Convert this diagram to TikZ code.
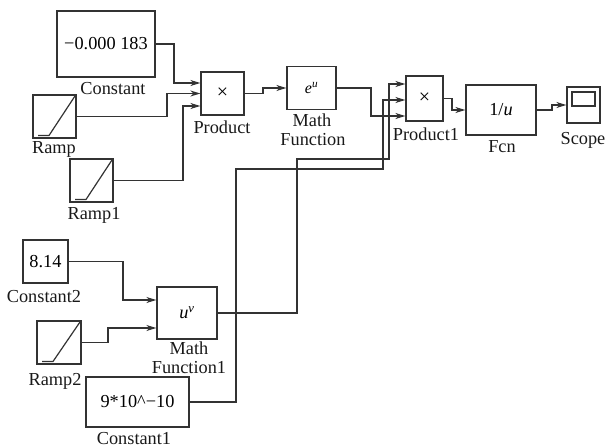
\documentclass[tikz,border=0pt]{standalone}
\usepackage{fontspec}
\setmainfont{Liberation Serif}
\usetikzlibrary{arrows.meta,calc}
\definecolor{lc}{gray}{0.2}
\newcommand{\lblfont}{\fontsize{18.3}{19}\selectfont}
\begin{document}
\begin{tikzpicture}[x=1pt,y=-1pt,
  blk/.style={draw=lc, line width=1.3pt, fill=white, inner sep=0pt, font=\lblfont},
  lbl/.style={anchor=base, inner sep=0pt, font=\lblfont, text=black!90},
  arr/.style={draw=lc, line width=1.2pt, -{Stealth[length=10pt,width=6pt]}},
  rampicon/.style={path picture={\draw[lc, line width=1.2pt]
      ($(path picture bounding box.south west)+(5pt,2.5pt)$) -- ++(11pt,0pt)
      -- ($(path picture bounding box.north east)+(-1pt,-1pt)$);}},
  scopeicon/.style={path picture={\draw[lc, line width=1.2pt]
      ($(path picture bounding box.north west)+(5pt,-5pt)$) rectangle
      ($(path picture bounding box.north east)+(-5pt,-19pt)$);}}
]
\useasboundingbox (0,0) rectangle (606,447);

% blocks
\node[blk, minimum width=98pt, minimum height=66pt] (const) at (106,44) {−0.000 183};
\node[lbl] (constl) at (113,94) {Constant};

\node[blk, minimum width=43pt, minimum height=43pt, font=\fontsize{20}{20}\selectfont] (prod) at (222.5,93.5) {×};
\node[lbl] (prodl) at (222,133) {Product};

\node[blk, rampicon, minimum width=43pt, minimum height=43pt] (ramp) at (54.5,116.5) {};
\node[lbl] (rampl) at (54,153) {Ramp};

\node[blk, rampicon, minimum width=43pt, minimum height=43pt] (ramp1) at (91.5,180.5) {};
\node[lbl] (ramp1l) at (94,219) {Ramp1};

\node[blk, minimum width=49pt, minimum height=43pt, font=\fontsize{16}{16}\selectfont] (mf) at (311.5,88) {\itshape e\textsuperscript{u}};
\node[lbl] (mfl1) at (312,126) {Math};
\node[lbl] (mfl2) at (313,145) {Function};

\node[blk, minimum width=37pt, minimum height=45pt, font=\fontsize{20}{20}\selectfont] (p1) at (424.5,98.5) {×};
\node[lbl] (p1l) at (426,140) {Product1};

\node[blk, minimum width=70pt, minimum height=50pt] (fcn) at (501,110) {1/\textit{u}};
\node[lbl] (fcnl) at (502,152) {Fcn};

\node[blk, scopeicon, minimum width=33pt, minimum height=36pt] (scope) at (583.5,105) {};
\node[lbl] (scopel) at (583,144) {Scope};

\node[blk, minimum width=45pt, minimum height=43pt] (const2) at (45.5,261.5) {8.14};
\node[lbl] (const2l) at (44,302) {Constant2};

\node[blk, rampicon, minimum width=44pt, minimum height=43pt] (ramp2) at (59,342.5) {};
\node[lbl] (ramp2l) at (55,385) {Ramp2};

\node[blk, minimum width=60pt, minimum height=52pt] (mf1) at (187,313) {\itshape u\textsuperscript{v}};
\node[lbl] (mf1l1) at (189,354) {Math};
\node[lbl] (mf1l2) at (189,373) {Function1};

\node[blk, minimum width=103pt, minimum height=50pt] (const1) at (137.5,402) {9*10\textasciicircum−10};
\node[lbl] (const1l) at (134,444) {Constant1};

% connectors
\draw[arr] (const.east) -- (174,44) |- ([yshift=10.5pt]prod.west);
\draw[arr] (ramp.east) -- (167,116.5) |- (prod.west);
\draw[arr] (ramp1.east) -- (183,180.5) |- ([yshift=-12.5pt]prod.west);
\draw[arr] (prod.east) -- (263,93.5) |- (mf.west);
\draw[arr] (mf.east) -- (371,88) |- ([yshift=-17.5pt]p1.west);
\draw[arr] (mf1.east) -- (297,313) -- (297,159) -- (389,159) |- ([yshift=14.5pt]p1.west);
\draw[arr] (const1.east) -- (236,402) -- (236,169) -- (383,169) |- ([yshift=-1.5pt]p1.west);
\draw[arr] (p1.east) -- (452,98.5) |- (fcn.west);
\draw[arr] (fcn.east) -- (552,110) |- (scope.west);
\draw[arr] (const2.east) -- (123,261.5) |- ([yshift=13pt]mf1.west);
\draw[arr] (ramp2.east) -- (108,342.5) |- ([yshift=-15pt]mf1.west);
\end{tikzpicture}
\end{document}
